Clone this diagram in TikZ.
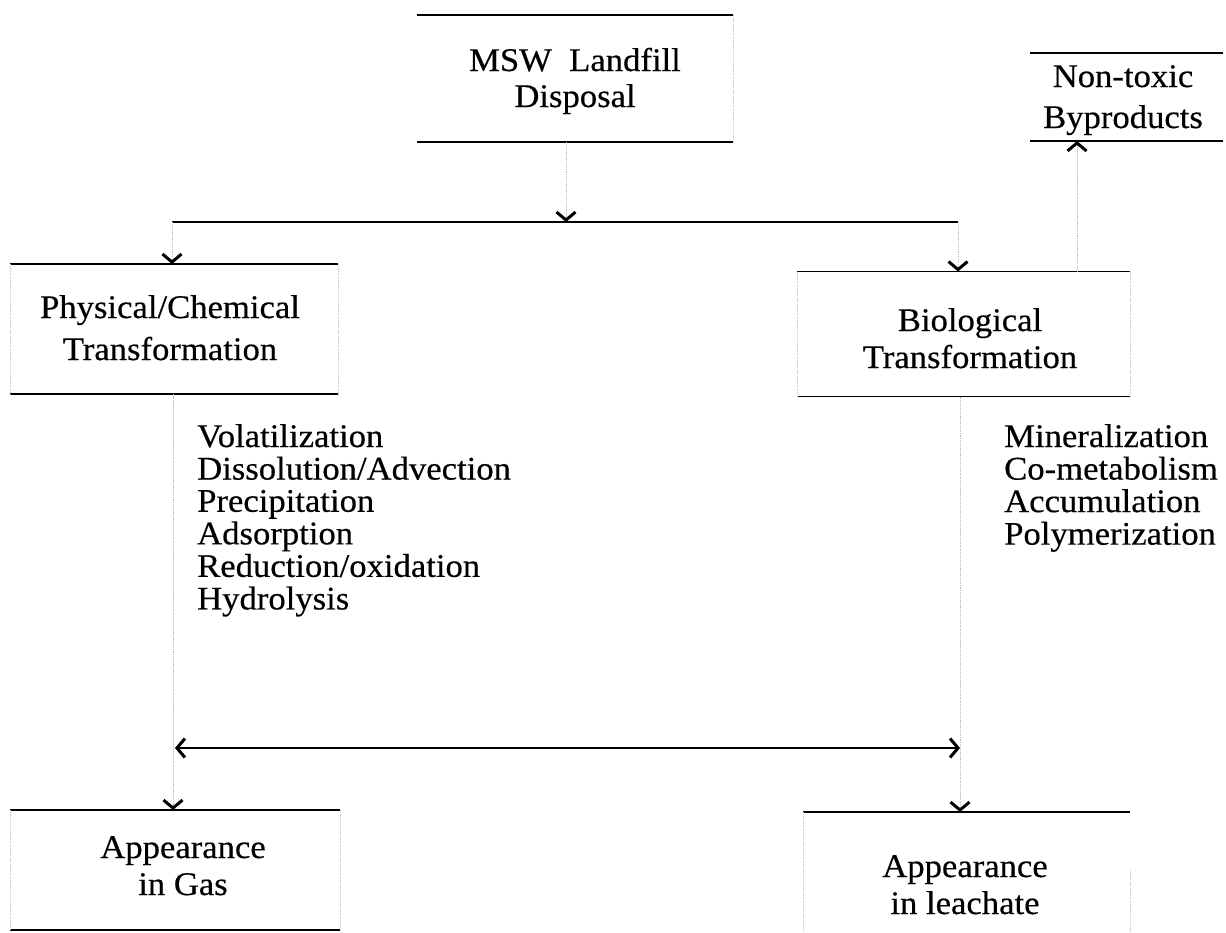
\documentclass[tikz,border=0pt]{standalone}
\usepackage{fontspec}
\setmainfont{Liberation Serif}[FakeStretch=1.05,FakeBold=0.4]
\usetikzlibrary{arrows.meta}
\tikzset{
  hline/.style={line width=1.8pt, black},
  side/.style={densely dotted, gray!45, line width=0.8pt},
  conn/.style={densely dotted, gray!55, line width=0.9pt},
  barb/.tip={Straight Barb[length=8pt,width=19pt,line width=3pt,color=black]},
  vtip/.style={-barb},
  boxnode/.style={inner sep=0pt, outer sep=0pt, minimum width=#1},
  txt/.style={inner sep=0pt, anchor=base, font=\fontsize{33}{36}\selectfont},
  lst/.style={inner sep=0pt, anchor=base west, font=\fontsize{33}{32.2}\selectfont},
}
\newcommand{\twolines}[3]{\begin{tabular}[t]{@{}c@{}}#1\\[#3]#2\end{tabular}}
\newcommand{\listlines}[1]{\begin{tabular}[t]{@{}l@{}}#1\end{tabular}}
\begin{document}
\begin{tikzpicture}[x=1pt,y=-1pt]
\useasboundingbox (0,0) rectangle (1226,932);

% boxes
\node[boxnode=316pt, minimum height=127pt] (msw) at (575,78.5) {};
\node[boxnode=193pt, minimum height=88pt] (byp) at (1126.5,97) {};
\node[boxnode=328pt, minimum height=130pt] (phys) at (174,329) {};
\node[boxnode=333pt, minimum height=125pt] (bio) at (963.5,334) {};
\node[boxnode=330pt, minimum height=120pt] (gas) at (175,870) {};
\node[boxnode=327pt, minimum height=140pt] (lea) at (966.5,882) {};

\foreach \b in {msw,byp,phys,bio,gas}{
  \draw[hline] (\b.north west) -- (\b.north east);
  \draw[hline] (\b.south west) -- (\b.south east);
}
\draw[hline] (lea.north west) -- (lea.north east);

\draw[side] (msw.north east) -- (msw.south east);
\draw[side] (phys.north west) -- (phys.south west);
\draw[side] (phys.north east) -- (phys.south east);
\draw[side] (bio.north west) -- (bio.south west);
\draw[side] (bio.north east) -- (bio.south east);
\draw[side] (gas.north west) -- (gas.south west);
\draw[side] (gas.north east) -- (gas.south east);
\draw[side] (lea.north west) -- (lea.south west);
\draw[side] ([yshift=-58pt]lea.north east) -- (lea.south east);

% texts
\node[txt] (mswt) at (575,71) {\twolines{MSW~~Landfill}{Disposal}{0pt}};
\node[txt] (bypt) at (1123,87) {\twolines{Non-toxic}{Byproducts}{5pt}};
\node[txt] (physt) at (170,318) {\twolines{Physical/Chemical}{Transformation}{6pt}};
\node[txt] (biot) at (970,331) {\twolines{Biological}{Transformation}{1pt}};
\node[txt] (gast) at (183,858) {\twolines{Appearance}{in Gas}{1pt}};
\node[txt] (leat) at (965,877) {\twolines{Appearance}{in leachate}{1pt}};

\node[lst] (pclist) at (197,447) {\listlines{Volatilization\\Dissolution/Advection\\Precipitation\\Adsorption\\Reduction/oxidation\\Hydrolysis}};
\node[lst] (biolist) at (1004,447) {\listlines{Mineralization\\Co-metabolism\\Accumulation\\Polymerization}};

% connectors
\coordinate (j) at (566,222);
\coordinate (jl) at (172,222);
\coordinate (jr) at (958,222);
\coordinate (bx) at (1077,0);
\coordinate (lx) at (173,0);
\coordinate (rx) at (960,0);
\coordinate (dl) at (175,748);
\coordinate (dr) at (960,748);

\draw[conn, vtip] (msw.south -| j) -- (j);
\draw[hline] (jl) -- (jr);
\draw[conn, vtip] (jl) -- (jl |- phys.north);
\draw[conn, vtip] (jr) -- (jr |- bio.north);
\draw[conn, vtip] (bio.north -| bx) -- (byp.south -| bx);
\draw[conn, vtip] (phys.south -| lx) -- (gas.north -| lx);
\draw[conn, vtip] (bio.south -| rx) -- (lea.north -| rx);
\draw[line width=1.6pt, barb-barb] (dl) -- (dr);
\end{tikzpicture}
\end{document}
